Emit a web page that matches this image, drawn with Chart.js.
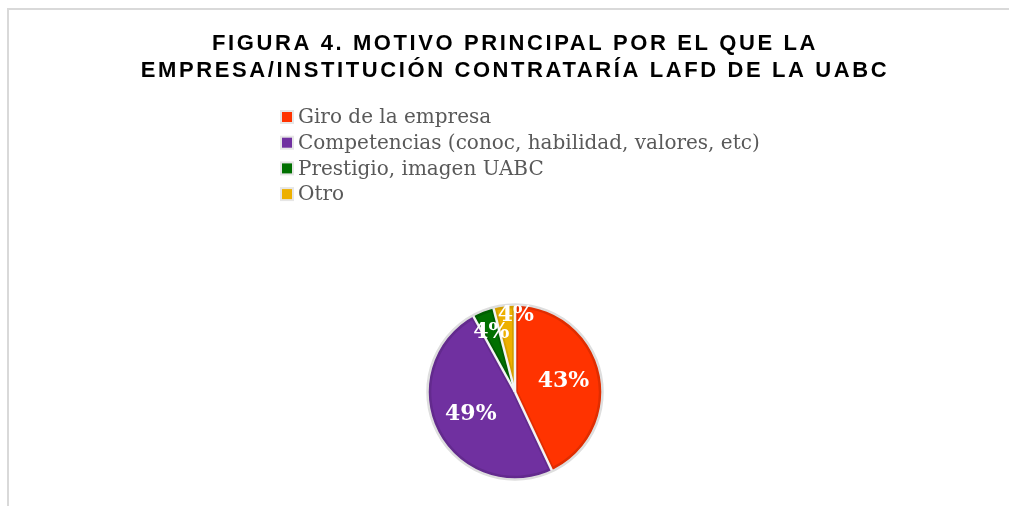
<!DOCTYPE html>
<html><head><meta charset="utf-8">
<script src="https://cdn.jsdelivr.net/npm/chart.js@4.4.1/dist/chart.umd.min.js"></script>
<style>
html,body{margin:0;padding:0;background:#fff;overflow:hidden}
#wrap{position:relative;width:1009px;height:506px;background:#fff}
#frame{position:absolute;left:7px;top:8px;width:1100px;height:600px;border-left:2px solid #d9d9d9;border-top:2px solid #d9d9d9;box-sizing:border-box}
canvas{position:absolute;left:0;top:0}
</style></head><body>
<div id="wrap"><div id="frame"></div><canvas id="c" width="1009" height="506"></canvas></div>
<script>
const titleLines = ["FIGURA 4. MOTIVO PRINCIPAL POR EL QUE LA", "EMPRESA/INSTITUCIÓN CONTRATARÍA LAFD DE LA UABC"];
const categories = ["Giro de la empresa", "Competencias (conoc, habilidad, valores, etc)", "Prestigio, imagen UABC", "Otro"];
const percentages = [43, 49, 4, 4];
const sliceColors = ["#FF3300", "#7030A0", "#007000", "#EDB000"];
const edgeColors = ["#E02D00", "#632A8E", "#005E00", "#D49F00"];

const titlePlugin = {
  id: 'customTitle',
  afterDraw(chart) {
    const ctx = chart.ctx;
    ctx.save();
    ctx.fillStyle = '#000';
    ctx.font = 'bold 22px "Liberation Sans", Arial, sans-serif';
    ctx.letterSpacing = '2.6px';
    ctx.textAlign = 'center';
    ctx.textBaseline = 'middle';
    const cx = 515;
    titleLines.forEach((t, i) => ctx.fillText(t, cx, 44 + i * 27));
    ctx.restore();
  }
};

const legendPlugin = {
  id: 'customLegend',
  afterDraw(chart) {
    const ctx = chart.ctx;
    const ds = chart.data.datasets[0];
    ctx.save();
    ctx.font = '20px "DejaVu Serif", serif';
    ctx.textBaseline = 'middle';
    ctx.textAlign = 'left';
    chart.data.labels.forEach((lab, i) => {
      const y = 117 + i * 25.7;
      ctx.fillStyle = '#e6e6e6';
      ctx.fillRect(280, y - 7, 14, 14);
      ctx.fillStyle = ds.backgroundColor[i];
      ctx.fillRect(282, y - 5, 10, 10);
      ctx.fillStyle = '#595959';
      ctx.fillText(lab, 298, y + 1);
    });
    ctx.restore();
  }
};

const arcDecor = {
  id: 'arcDecor',
  afterDatasetsDraw(chart) {
    const ctx = chart.ctx;
    const meta = chart.getDatasetMeta(0);
    const ds = chart.data.datasets[0];
    ctx.save();
    meta.data.forEach(el => {
      const p = el.getProps(['x', 'y', 'startAngle', 'outerRadius'], true);
      ctx.strokeStyle = '#f4f4f4';
      ctx.lineWidth = 2.5;
      ctx.beginPath();
      ctx.moveTo(p.x, p.y);
      ctx.lineTo(p.x + Math.cos(p.startAngle) * p.outerRadius, p.y + Math.sin(p.startAngle) * p.outerRadius);
      ctx.stroke();
    });
    const p0 = meta.data[0].getProps(['x', 'y', 'outerRadius'], true);
    ctx.strokeStyle = '#dedede';
    ctx.lineWidth = 2.5;
    ctx.beginPath();
    ctx.arc(p0.x, p0.y, p0.outerRadius + 0.5, 0, Math.PI * 2);
    ctx.stroke();

    ctx.fillStyle = '#ffffff';
    ctx.font = 'bold 22px "DejaVu Serif", serif';
    ctx.textAlign = 'center';
    ctx.textBaseline = 'middle';
    const pos = meta.data.map((el, i) => {
      const p = el.getProps(['x', 'y', 'startAngle', 'endAngle', 'outerRadius'], true);
      const mid = (p.startAngle + p.endAngle) / 2;
      const v = ds.data[i];
      const f = v < 10 ? 0.74 : 0.57;
      return { x: p.x + Math.cos(mid) * p.outerRadius * f, y: p.y + Math.sin(mid) * p.outerRadius * f,
               rx: Math.cos(mid), ry: Math.sin(mid), small: v < 10, text: v + '%' };
    });
    const minSep = 30;
    for (let i = 0; i < pos.length; i++) {
      for (let j = i + 1; j < pos.length; j++) {
        const a = pos[i], b = pos[j];
        if (!a.small || !b.small) continue;
        let dx = b.x - a.x, dy = b.y - a.y;
        const d = Math.hypot(dx, dy) || 1;
        if (d >= minSep) continue;
        let ux = dx / d + b.rx, uy = dy / d + b.ry;
        const n = Math.hypot(ux, uy) || 1; ux /= n; uy /= n;
        const B = 2 * (dx * ux + dy * uy), C = dx * dx + dy * dy - minSep * minSep;
        const t = (-B + Math.sqrt(B * B - 4 * C)) / 2;
        b.x += ux * t; b.y += uy * t;
      }
    }
    pos.forEach(p => ctx.fillText(p.text, p.x, p.y));
    ctx.restore();
  }
};

new Chart(document.getElementById('c'), {
  type: 'pie',
  data: {
    labels: categories,
    datasets: [{
      data: percentages,
      backgroundColor: sliceColors,
      borderColor: edgeColors,
      borderWidth: 3,
      borderAlign: 'inner'
    }]
  },
  options: {
    responsive: false,
    devicePixelRatio: 1,
    animation: false,
    radius: 87,
    layout: { padding: { left: 21, right: 0, top: 290, bottom: 12 } },
    plugins: { legend: { display: false }, title: { display: false }, tooltip: { enabled: false } }
  },
  plugins: [arcDecor, legendPlugin, titlePlugin]
});
</script>
</body></html>
